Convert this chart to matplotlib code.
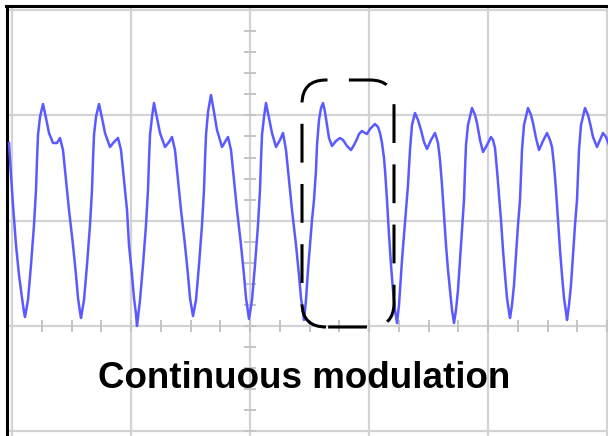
import matplotlib
matplotlib.use("Agg")
import matplotlib.pyplot as plt
import numpy as np
from matplotlib.patches import FancyBboxPatch

# ---- waveform data (time in samples, amplitude in ADC counts) ----
lead_t = [-1, 1, 3, 6, 9, 12, 14, 15]
lead_v = [183, 151, 121, 81, 51, 28, 14, 9]

p0_t = [18, 21, 24, 26, 27, 28, 30, 33, 36, 39, 43, 47, 50, 53, 56, 59, 63, 66, 68, 70, 71]
p0_v = [26, 61, 101, 136, 166, 191, 209, 222, 208, 193, 183, 183, 188, 176, 146, 116, 81, 51, 28, 14, 8]

p1_t = [74, 77, 80, 82, 83, 84, 86, 89, 92, 95, 100, 104, 108, 111, 114, 117, 119, 122, 124, 126, 127]
p1_v = [26, 61, 101, 136, 166, 191, 209, 222, 208, 193, 179, 184, 188, 176, 146, 116, 81, 51, 28, 12, 0]

p2_t = [130, 133, 136, 138, 139, 140, 142, 144, 147, 150, 155, 159, 162, 165, 168, 171, 175, 178, 180, 182, 183]
p2_v = [26, 61, 101, 136, 166, 191, 209, 223, 208, 193, 179, 184, 189, 176, 146, 116, 81, 51, 28, 16, 10]

p3_t = [186, 189, 192, 194, 195, 196, 198, 201, 204, 207, 212, 215, 218, 221, 224, 227, 231, 234, 236, 238, 239]
p3_v = [26, 61, 101, 136, 166, 191, 214, 231, 214, 196, 179, 184, 189, 176, 146, 116, 81, 51, 28, 14, 7]

p4_t = [242, 245, 248, 250, 251, 252, 254, 256, 259, 262, 266, 270, 273, 276, 279, 282, 286, 289, 291, 293, 294]
p4_v = [26, 61, 101, 136, 166, 191, 209, 223, 208, 193, 179, 186, 193, 176, 146, 116, 81, 51, 28, 14, 6]

# continuous-modulation pulse
p5_t = [296, 298, 300, 302, 304, 306, 307, 309, 311, 313, 315, 317, 319, 322, 326, 330, 333, 337, 341,
        344, 347, 349, 352, 355, 357, 360, 363, 365, 368, 370, 372, 374, 375, 377, 379, 381, 383, 385, 387]
p5_v = [26, 56, 81, 106, 126, 156, 181, 206, 218, 223, 214, 201, 188, 180, 185, 188, 186, 180, 176,
        181, 187, 192, 195, 193, 192, 197, 200, 202, 199, 193, 183, 168, 156, 126, 91, 61, 36, 16, 3]

p6_t = [389, 390, 392, 394, 396, 398, 400, 402, 405, 408, 411, 414, 417, 421, 425, 428, 430, 432, 434, 436, 438, 440, 442, 444]
p6_v = [21, 36, 66, 91, 116, 141, 176, 201, 213, 206, 196, 184, 177, 186, 193, 183, 166, 141, 111, 81, 56, 36, 16, 3]

p7_t = [446, 448, 450, 452, 454, 455, 456, 458, 462, 465, 467, 470, 473, 477, 481, 483, 485, 487, 489, 491, 493, 495, 497, 499, 500]
p7_v = [16, 36, 66, 96, 126, 156, 181, 201, 218, 211, 203, 186, 174, 181, 189, 186, 178, 156, 131, 106, 76, 51, 28, 14, 8]

p8_t = [502, 504, 506, 508, 510, 511, 512, 514, 518, 521, 523, 526, 529, 533, 537, 540, 542, 544, 546, 548, 550, 552, 554, 556, 557]
p8_v = [21, 41, 71, 101, 126, 151, 176, 201, 218, 211, 203, 188, 176, 185, 193, 186, 179, 161, 136, 106, 76, 51, 28, 14, 6]

p9_t = [559, 561, 563, 565, 567, 568, 569, 571, 575, 578, 580, 583, 587, 590, 593, 596, 599, 601]
p9_v = [21, 41, 71, 101, 126, 151, 176, 201, 218, 211, 203, 189, 179, 186, 193, 189, 181, 166]

segments_t = [lead_t, p0_t, p1_t, p2_t, p3_t, p4_t, p5_t, p6_t, p7_t, p8_t, p9_t]
segments_v = [lead_v, p0_v, p1_v, p2_v, p3_v, p4_v, p5_v, p6_v, p7_v, p8_v, p9_v]

label_text = "Continuous modulation"

# highlight box around the continuous pulse (t0, v0, width, height)
box_t0, box_v0, box_w, box_h = 292, -1, 92, 247

# screen graticule: division sizes and centre position
div_t, div_v = 119.0, 105.3
centre_t, centre_v = 240.0, 0.0

# ---- figure ----
W, H = 608, 436
fig = plt.figure(figsize=(W / 100, H / 100), dpi=100)
left_px, top_px, right_px, bottom_px = 6.5, 6.5, 620, 446
ax = fig.add_axes([left_px / W, 1 - bottom_px / H,
                   (right_px - left_px) / W, (bottom_px - top_px) / H])
ax.set_xlim(-3.5, 610)
ax.set_ylim(-120, 319.5)
ax.set_xticks([])
ax.set_yticks([])

grid_col = "#d3d3d3"
tick_col = "#c4c4c4"
xmin, xmax = ax.get_xlim()
ymin, ymax = ax.get_ylim()
for k in range(-2, 4):
    ax.axvline(centre_t + k * div_t, color=grid_col, lw=1.6, zorder=1)
for k in range(-1, 4):
    ax.axhline(centre_v + k * div_v, color=grid_col, lw=1.6, zorder=1)

# minor ticks on centre axes
tx = centre_t + np.arange(-7, 20) * div_t / 4
tx = tx[tx < xmax]
ax.plot(tx, np.full_like(tx, centre_v), ls="none", marker="|", ms=8, mew=1.4,
        color=tick_col, zorder=1.5)
ty = centre_v + np.arange(-5, 15) * div_v / 5
ty = ty[(ty > ymin) & (ty < ymax - 3)]
ax.plot(np.full_like(ty, centre_t), ty, ls="none", marker="_", ms=8, mew=1.4,
        color=tick_col, zorder=1.5)

for s in ("left", "top"):
    ax.spines[s].set_color("black")
    ax.spines[s].set_linewidth(2.2)
for s in ("right", "bottom"):
    ax.spines[s].set_visible(False)

# waveform
all_t = [x for seg in segments_t for x in seg]
all_v = [y for seg in segments_v for y in seg]
ax.plot(all_t, all_v, color="#5a5aff", lw=1.8, zorder=3)

# dashed rounded box
box = FancyBboxPatch((box_t0, box_v0), box_w, box_h,
                     boxstyle="round,pad=0,rounding_size=24",
                     fill=False, edgecolor="black", lw=2.2,
                     linestyle=(19.0, (12.7, 7.0)), zorder=4)
ax.add_patch(box)

ax.text(294.5, -62, label_text, ha="center", va="baseline",
        fontsize=26.5, fontweight="bold", family=["Liberation Sans", "DejaVu Sans"],
        color="black", zorder=5)

fig.savefig("out.png", dpi=100)
